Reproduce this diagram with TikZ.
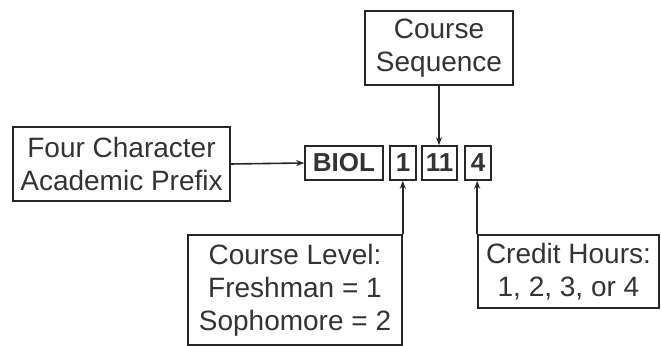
\documentclass[tikz,border=0pt]{standalone}
\usepackage{fontspec}
\setmainfont{Liberation Sans}
\usetikzlibrary{arrows.meta}

\begin{document}
\begin{tikzpicture}[x=0.5pt,y=-0.5pt,
    box/.style={draw=black!85, line width=0.8pt, text=black!80, align=center, inner sep=0pt,
      font=\fontsize{14}{16.5}\selectfont},
    digit/.style={box, minimum height=17pt, font=\fontsize{13}{15}\selectfont\bfseries},
    link/.style={draw=black!85, line width=0.8pt, -{Stealth[length=4pt,width=3pt]}}]
    \useasboundingbox (0,0) rectangle (661,346);
    \node [box, minimum width=74pt, minimum height=37pt] (seq) at (439,48) {Course\\Sequence};
    \node [box, minimum width=108.5pt, minimum height=37pt] (prefix) at (121.5,164) {Four Character\\Academic Prefix};
    \node [digit, minimum width=39pt] (biol) at (344,163) {BIOL};
    \node [digit, minimum width=13pt] (one) at (403,163) {1};
    \node [digit, minimum width=17.5pt] (eleven) at (439.5,163) {11};
    \node [digit, minimum width=13pt] (four) at (478,163) {4};
    \node [box, minimum width=107pt, minimum height=55pt] (level) at (295,290) {Course Level:\\Freshman = 1\\Sophomore = 2};
    \node [box, minimum width=90.5pt, minimum height=36.5pt] (credit) at (568.5,271.5) {Credit Hours:\\1, 2, 3, or 4};
    \draw [link] (prefix.east) -- (biol.west);
    \draw [link] (seq.south) -- (seq.south |- eleven.north);
    \draw [link] (level.north east) -- (level.north east |- one.south);
    \draw [link] (credit.north west) -- (credit.north west |- four.south);
\end{tikzpicture}
\end{document}
